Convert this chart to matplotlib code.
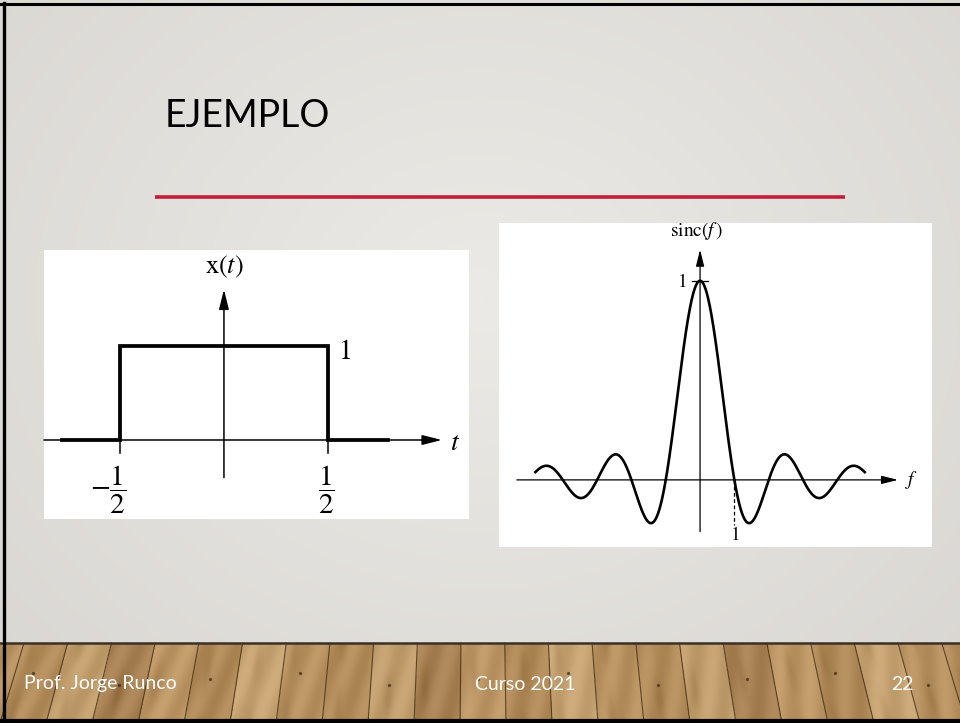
import numpy as np
import matplotlib.pyplot as plt

plt.rcParams['mathtext.fontset'] = 'stix'
plt.rcParams['font.family'] = ['Lato', 'DejaVu Sans']

# rectangular pulse x(t): breakpoints
pulse_t = [-0.78, -0.5, -0.5, 0.5, 0.5, 0.79]
pulse_x = [0, 0, 1, 1, 0, 0]

# sinc(f) is drawn over this frequency span
f_start, f_stop = -4.8, 4.8
first_zero = 1

title = 'EJEMPLO'
footer_left = 'Prof. Jorge Runco'
footer_mid = 'Curso 2021'
page = '22'

W, H = 960, 723
FLOOR = 643
fig = plt.figure(figsize=(W / 100, H / 100), dpi=100)

# slide background in pixel coordinates
bg = fig.add_axes([0, 0, 1, 1])
bg.set_xlim(0, W)
bg.set_ylim(H, 0)
bg.axis('off')

yy, xx = np.mgrid[0:FLOOR, 0:W]
r = np.sqrt(((xx - 480) / 620.0) ** 2 + ((yy - 300) / 520.0) ** 2)
shade = np.clip(1 - 0.55 * r, 0, 1)
light = np.array([0.925, 0.918, 0.902])
dark = np.array([0.80, 0.788, 0.77])
grad = dark + (light - dark) * shade[..., None]
bg.imshow(grad, extent=(0, W, FLOOR, 0), aspect='auto', zorder=0)

# wooden floor strip: planks converge slightly towards the top
fy, fx = np.mgrid[FLOOR:H, 0:W].astype(float)
depth = (fy - FLOOR) / (H - FLOOR)
scale = 0.95 + 0.05 * depth
u = 480 + (fx - 480) / scale
pitch = 46.0
plank = np.floor(u / pitch).astype(int)
tones = np.array([[0.70, 0.55, 0.36], [0.76, 0.62, 0.43], [0.66, 0.51, 0.33],
                  [0.74, 0.59, 0.40], [0.69, 0.54, 0.35], [0.78, 0.64, 0.45],
                  [0.72, 0.57, 0.38]])
wood = tones[plank % len(tones)]
local = (u / pitch) - plank
grain = (0.035 * np.sin(local * 9.0 + plank * 2.1 + fy * 0.05)
         - 0.05 * np.exp(-((local - 0.2 - 0.1 * (plank % 3)) ** 2) / 0.01)
         * (0.5 + 0.5 * np.sin(fy * 0.09 + plank)))
wood = np.clip(wood + grain[..., None], 0, 1)
bg.imshow(wood, extent=(0, W, H, FLOOR), aspect='auto', zorder=0)
for k in range(-12, 34):
    bx = k * pitch
    top = 480 + (bx - 480) * 0.95
    bg.plot([bx, top], [H, FLOOR], color='#3a2712', lw=0.8, alpha=0.75, zorder=1)
    if k % 2 == 0:
        dy = 30 + 6 * (k % 3)
        px = 480 + (bx + 0.4 * pitch - 480) * (0.95 + 0.05 * dy / 80)
        bg.plot(px, FLOOR + dy, 'o', ms=1.4, color='#3a2712', alpha=0.6, zorder=1)
bg.plot([0, W], [FLOOR, FLOOR], color='#3b3026', lw=1.8, zorder=2)

# slide frame: left, top and bottom edges
bg.plot([4, 4], [3, 721], color='black', lw=2.4, zorder=5)
bg.plot([0, W], [4, 4], color='black', lw=2.2, zorder=5)
bg.plot([0, W], [721, 721], color='black', lw=3, zorder=5)

bg.text(165, 116, title, fontsize=27, color='black', va='center', ha='left')
bg.plot([155, 845], [197, 197], color='#c41e3a', lw=2.6, solid_capstyle='butt')

bg.text(24, 684, footer_left, fontsize=14, color='white', va='center', ha='left')
bg.text(525, 684, footer_mid, fontsize=14, color='white', va='center', ha='center')
bg.text(902, 684, page, fontsize=14, color='white', va='center', ha='center')


def panel(x0, y0, x1, y1):
    ax = fig.add_axes([x0 / W, 1 - y1 / H, (x1 - x0) / W, (y1 - y0) / H])
    ax.set_facecolor('white')
    for s in ax.spines.values():
        s.set_visible(False)
    ax.set_xticks([])
    ax.set_yticks([])
    return ax


def arrow(ax, start, end, lw, hl, hw):
    ax.annotate('', xy=end, xytext=start,
                arrowprops=dict(arrowstyle=f'-|>,head_length={hl},head_width={hw}',
                                color='black', lw=lw, shrinkA=0, shrinkB=0))


# left panel: x(t)
axl = panel(44, 250, 469, 519)
axl.set_xlim(-0.865, 1.178)
axl.set_ylim(-0.84, 2.02)
arrow(axl, (-0.865, 0), (1.048, 0), 1.1, 1.2, 0.3)
arrow(axl, (0, -0.40), (0, 1.60), 1.1, 1.2, 0.3)
axl.plot(pulse_t, pulse_x, color='black', lw=2.7, solid_joinstyle='miter')
for tk in (-0.5, 0.5):
    axl.plot([tk, tk], [0, -0.14], color='black', lw=1.1)
serif = dict(color='black', ha='center', va='center')
axl.text(0, 1.84, r'$\mathrm{x}(t)$', fontsize=19, **serif)
axl.text(0.58, 0.95, r'$1$', fontsize=20, **serif)
axl.text(1.11, -0.02, r'$t$', fontsize=20, **serif)
axl.text(-0.555, -0.53, r'$-\dfrac{1}{2}$', fontsize=21, **serif)
axl.text(0.49, -0.53, r'$\dfrac{1}{2}$', fontsize=21, **serif)

# right panel: sinc(f)
axr = panel(499, 223, 932, 547)
axr.set_xlim(-5.86, 6.76)
axr.set_ylim(-0.337, 1.29)
f = np.linspace(f_start, f_stop, 800)
axr.plot(f, np.sinc(f), color='black', lw=1.9)
arrow(axr, (-5.34, 0), (5.77, 0), 0.9, 1.0, 0.25)
arrow(axr, (0, -0.26), (0, 1.156), 0.9, 1.0, 0.25)
axr.plot([-0.23, 0.23], [1, 1], color='black', lw=0.9)
axr.plot([first_zero, first_zero], [0, -0.226], color='black', lw=0.9, ls=(0, (3, 2)))
axr.text(-0.52, 1.0, r'$1$', fontsize=14, **serif)
axr.text(first_zero, -0.27, r'$1$', fontsize=14, **serif)
axr.text(-0.09, 1.25, r'$\mathrm{sinc}(f\,)$', fontsize=14, **serif)
axr.text(6.15, 0, r'$f$', fontsize=14, **serif)

fig.savefig('out.png', dpi=100)
